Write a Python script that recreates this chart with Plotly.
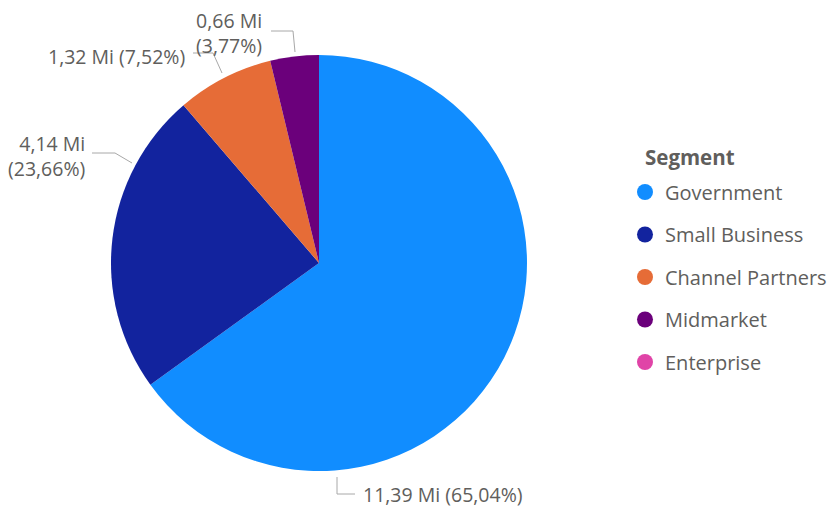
import plotly.graph_objects as go

# data (profit in millions)
segments = ["Government", "Small Business", "Channel Partners", "Midmarket", "Enterprise"]
values = [11.388, 4.143, 1.317, 0.660, 0.0]
colors = ["#118DFF", "#12239E", "#E66C37", "#6B007B", "#E044A7"]

W, H = 830, 510
OFF = 8  # page body margin
FONT = "Open Sans, Noto Sans, sans-serif"
TEXT_GRAY = "#605E5C"
LINE_GRAY = "#A8A8A8"


# screen pixel -> paper coords
def px(x):
    return (x - OFF) / W


def py(y):
    return 1 - (y - OFF) / H


total = sum(v for v in values if v > 0)


def fmt(v):
    return f"{v:.2f}".replace(".", ",")


labels = {}
for seg, v in zip(segments, values):
    labels[seg] = (fmt(v) + " Mi", "(" + fmt(v / total * 100) + "%)")

fig = go.Figure()

fig.add_trace(go.Pie(
    labels=segments,
    values=values,
    marker=dict(colors=colors, line=dict(width=0)),
    sort=False,
    direction="clockwise",
    rotation=0,
    textinfo="none",
    showlegend=False,
    domain=dict(x=[px(111), px(527)], y=[py(471), py(55)]),
    hovertemplate="%{label}: %{value:.2f} Mi<extra></extra>",
))

# legend entries with round markers
for seg, c in zip(segments, colors):
    fig.add_trace(go.Scatter(
        x=[None], y=[None], mode="markers",
        marker=dict(color=c, size=16, symbol="circle"),
        name=seg, legendgroup=seg, showlegend=True,
    ))

# label placement: (segment, anchor x, anchor y, xanchor, two lines?, leader path)
label_layout = [
    ("Midmarket", 264, 33, "right", True, [(271, 31), (293, 31), (295, 52)]),
    ("Channel Partners", 187, 57, "right", False, [(193, 53), (213, 53), (222, 73)]),
    ("Small Business", 87, 156, "right", True, [(92, 153), (115, 153), (132, 163)]),
    ("Government", 361, 494, "left", False, [(337, 477), (337, 494), (355, 494)]),
]

for seg, ax, ay, xa, two, path in label_layout:
    a, b = labels[seg]
    text = a + "<br>" + b if two else a + " " + b
    fig.add_annotation(
        x=px(ax), y=py(ay), xref="paper", yref="paper",
        text=text, showarrow=False, xanchor=xa, yanchor="middle",
        align="right" if xa == "right" else "left",
        font=dict(family=FONT, size=19.5, color=TEXT_GRAY),
    )
    d = "M " + " L ".join(f"{px(x)} {py(y)}" for x, y in path)
    fig.add_shape(type="path", path=d, xref="paper", yref="paper",
                  line=dict(color=LINE_GRAY, width=1))

# legend title
fig.add_annotation(
    x=px(643), y=py(157), xref="paper", yref="paper",
    text="<b>Segment</b>", showarrow=False, xanchor="left", yanchor="middle",
    font=dict(family=FONT, size=20.5, color=TEXT_GRAY),
)

fig.update_xaxes(visible=False)
fig.update_yaxes(visible=False)

fig.update_layout(
    width=W, height=H,
    margin=dict(l=0, r=0, t=0, b=0),
    paper_bgcolor="white",
    plot_bgcolor="white",
    font=dict(family=FONT, color=TEXT_GRAY),
    legend=dict(
        font=dict(size=20, color=TEXT_GRAY),
        x=px(625), y=py(172.5), xanchor="left", yanchor="top",
        tracegroupgap=13.5,
        itemsizing="trace",
        bgcolor="rgba(0,0,0,0)",
    ),
)

fig.write_html("out.html")
